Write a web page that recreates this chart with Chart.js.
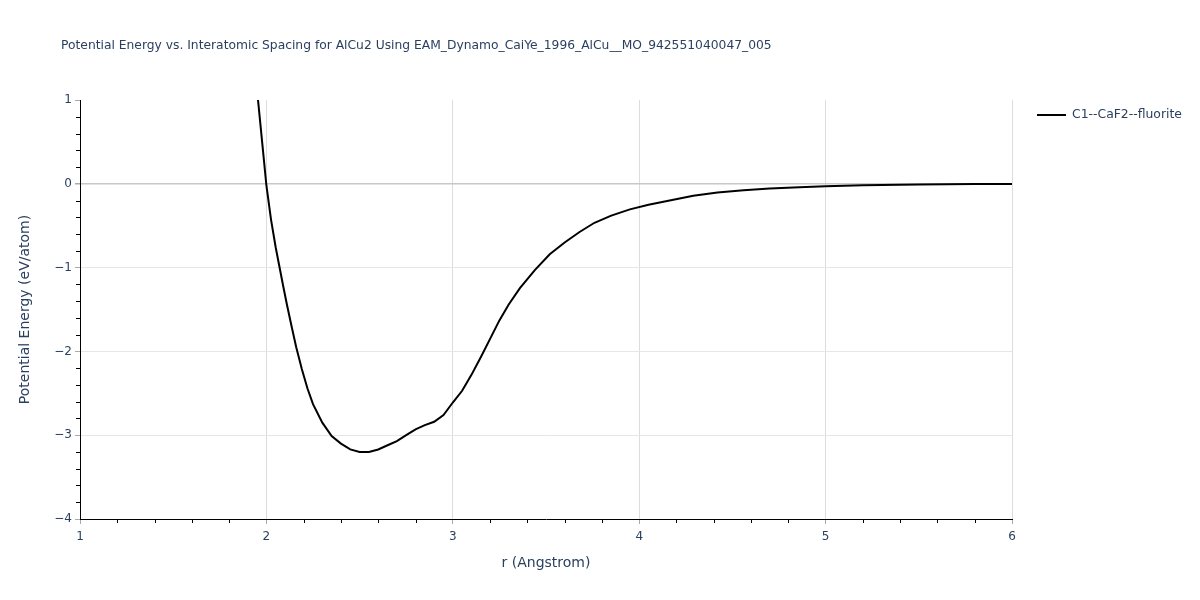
<!DOCTYPE html>
<html>
<head>
<meta charset="utf-8">
<script src="https://cdn.jsdelivr.net/npm/chart.js@4"></script>
<style>
  html, body { margin: 0; padding: 0; background: #fff; }
  #wrap { width: 1200px; height: 600px; position: relative; }
</style>
</head>
<body>
<div id="wrap"><canvas id="chart"></canvas></div>
<script>
const titleText = 'Potential Energy vs. Interatomic Spacing for AlCu2 Using EAM_Dynamo_CaiYe_1996_AlCu__MO_942551040047_005';
const seriesName = 'C1--CaF2--fluorite';

// r in Angstrom, energy in eV/atom
const rValues = [1.955, 1.978, 2.0, 2.025, 2.05, 2.07, 2.09, 2.11, 2.135, 2.16,
  2.19, 2.22, 2.25, 2.3, 2.35, 2.4, 2.45, 2.5, 2.55, 2.6,
  2.65, 2.7, 2.75, 2.8, 2.85, 2.9, 2.95, 3.0, 3.05, 3.1,
  3.15, 3.2, 3.25, 3.3, 3.36, 3.44, 3.52, 3.6, 3.68, 3.76,
  3.85, 3.95, 4.05, 4.15, 4.29, 4.42, 4.56, 4.7, 4.86, 5.0,
  5.2, 5.5, 5.8, 6.0];
const energyValues = [1.0, 0.48, -0.02, -0.43, -0.76, -0.99, -1.22, -1.44, -1.70, -1.95,
  -2.21, -2.44, -2.63, -2.85, -3.01, -3.10, -3.17, -3.20, -3.20, -3.17,
  -3.12, -3.07, -3.00, -2.93, -2.88, -2.84, -2.76, -2.61, -2.47, -2.28,
  -2.07, -1.85, -1.63, -1.44, -1.245, -1.03, -0.84, -0.70, -0.575, -0.465,
  -0.38, -0.305, -0.25, -0.205, -0.143, -0.105, -0.078, -0.057, -0.040, -0.029,
  -0.018, -0.008, -0.003, -0.001];

const xTicks = [1, 2, 3, 4, 5, 6];
const yTicks = [1, 0, -1, -2, -3, -4];
const minorStep = 0.2;

const FONT = '"DejaVu Sans", Verdana, sans-serif';
const TEXT_COLOR = '#2a3f5f';

const points = rValues.map((r, i) => ({ x: r, y: energyValues[i] }));

// title, legend and minor ticks
const extras = {
  id: 'extras',
  afterDraw(chart) {
    const ctx = chart.ctx;
    const area = chart.chartArea;
    const xs = chart.scales.x, ys = chart.scales.y;
    ctx.save();
    ctx.fillStyle = TEXT_COLOR;
    ctx.textBaseline = 'middle';
    ctx.textAlign = 'left';
    ctx.font = '12.3px ' + FONT;
    ctx.fillText(titleText, 61, 46);

    // legend
    ctx.strokeStyle = '#000';
    ctx.lineWidth = 2;
    ctx.beginPath();
    ctx.moveTo(1037, 115);
    ctx.lineTo(1066, 115);
    ctx.stroke();
    ctx.font = '12.4px ' + FONT;
    ctx.fillText(seriesName, 1072, 115);

    // minor ticks, outside the axes
    ctx.strokeStyle = '#000';
    ctx.lineWidth = 1;
    ctx.beginPath();
    for (let v = xs.min + minorStep; v < xs.max - 1e-6; v += minorStep) {
      if (Math.abs(v - Math.round(v)) < 1e-6) continue;
      const px = Math.round(xs.getPixelForValue(v)) + 0.5;
      ctx.moveTo(px, area.bottom);
      ctx.lineTo(px, area.bottom + 4);
    }
    for (let v = ys.min + minorStep; v < ys.max - 1e-6; v += minorStep) {
      if (Math.abs(v - Math.round(v)) < 1e-6) continue;
      const py = Math.round(ys.getPixelForValue(v)) + 0.5;
      ctx.moveTo(area.left, py);
      ctx.lineTo(area.left - 4, py);
    }
    ctx.stroke();
    ctx.restore();
  }
};

const fmt = v => String(v).replace('-', '\u2212');

new Chart(document.getElementById('chart'), {
  type: 'line',
  data: {
    datasets: [{
      label: seriesName,
      data: points,
      borderColor: '#000',
      borderWidth: 2,
      pointRadius: 0,
      tension: 0,
      fill: false
    }]
  },
  options: {
    responsive: true,
    maintainAspectRatio: false,
    animation: false,
    layout: { padding: { top: 100, right: 188, left: 0, bottom: 0 } },
    plugins: {
      legend: { display: false },
      title: { display: false },
      tooltip: { enabled: false }
    },
    scales: {
      x: {
        type: 'linear',
        min: 1, max: 6,
        afterFit(s) { s.height = 81; },
        afterBuildTicks(s) { s.ticks = xTicks.map(v => ({ value: v })); },
        ticks: { callback: fmt, color: TEXT_COLOR, font: { family: FONT, size: 12 }, padding: 6, maxRotation: 0 },
        grid: {
          color: c => (c.tick && c.tick.value === 1 ? 'rgba(0,0,0,0)' : '#dcdcdc'),
          tickColor: '#aaa',
          tickLength: 5
        },
        border: { display: true, color: '#000', width: 1 },
        title: { display: true, text: 'r (Angstrom)', color: TEXT_COLOR, font: { family: FONT, size: 14 }, padding: { bottom: 28.6, top: 0 } }
      },
      y: {
        type: 'linear',
        min: -4, max: 1,
        afterFit(s) { s.width = 80; },
        afterBuildTicks(s) { s.ticks = yTicks.map(v => ({ value: v })); },
        ticks: { callback: fmt, color: TEXT_COLOR, font: { family: FONT, size: 12 }, padding: 3 },
        grid: {
          color: c => {
            if (!c.tick) return '#e6e6e6';
            if (c.tick.value === 0) return '#c8c8c8';
            if (c.tick.value === 1 || c.tick.value === -4) return 'rgba(0,0,0,0)';
            return '#e6e6e6';
          },
          lineWidth: c => (c.tick && c.tick.value === 0 ? 1.5 : 1),
          tickColor: '#aaa',
          tickLength: 5
        },
        border: { display: true, color: '#000', width: 1 },
        title: { display: true, text: 'Potential Energy (eV/atom)', color: TEXT_COLOR, font: { family: FONT, size: 14 }, padding: { top: 16.6, bottom: 0 } }
      }
    }
  },
  plugins: [extras]
});
</script>
</body>
</html>
